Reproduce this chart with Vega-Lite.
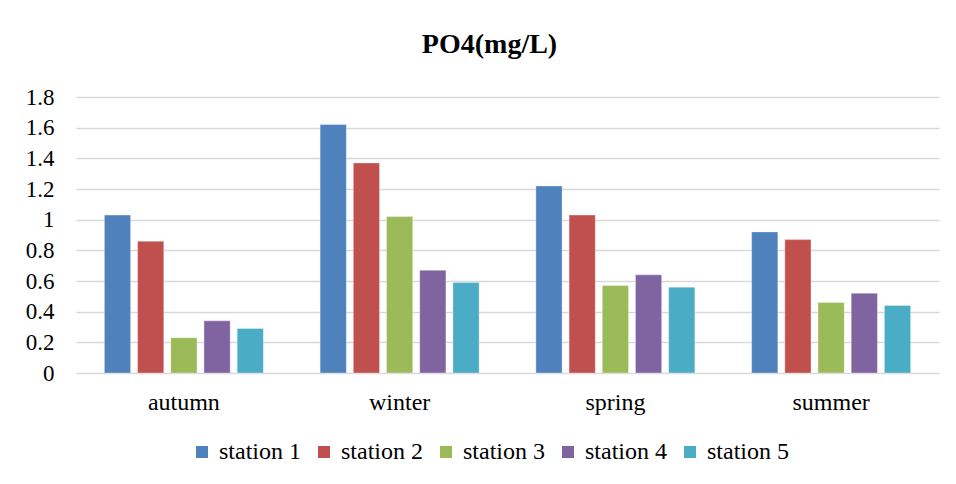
{
  "$schema": "https://vega.github.io/schema/vega-lite/v6.json",
  "width": 863,
  "height": 276,
  "autosize": {"type": "none"},
  "padding": {"left": 76, "top": 97, "right": 17, "bottom": 111},
  "background": "white",
  "title": {
    "text": "PO4(mg/L)",
    "anchor": "middle",
    "dx": -18,
    "offset": 27
  },
  "data": {
    "values": [
      {"season": "autumn", "station": "station 1", "value": 1.03},
      {"season": "autumn", "station": "station 2", "value": 0.86},
      {"season": "autumn", "station": "station 3", "value": 0.23},
      {"season": "autumn", "station": "station 4", "value": 0.34},
      {"season": "autumn", "station": "station 5", "value": 0.29},
      {"season": "winter", "station": "station 1", "value": 1.62},
      {"season": "winter", "station": "station 2", "value": 1.37},
      {"season": "winter", "station": "station 3", "value": 1.02},
      {"season": "winter", "station": "station 4", "value": 0.67},
      {"season": "winter", "station": "station 5", "value": 0.59},
      {"season": "spring", "station": "station 1", "value": 1.22},
      {"season": "spring", "station": "station 2", "value": 1.03},
      {"season": "spring", "station": "station 3", "value": 0.57},
      {"season": "spring", "station": "station 4", "value": 0.64},
      {"season": "spring", "station": "station 5", "value": 0.56},
      {"season": "summer", "station": "station 1", "value": 0.92},
      {"season": "summer", "station": "station 2", "value": 0.87},
      {"season": "summer", "station": "station 3", "value": 0.46},
      {"season": "summer", "station": "station 4", "value": 0.52},
      {"season": "summer", "station": "station 5", "value": 0.44}
    ]
  },
  "mark": {"type": "bar", "stroke": "#ffffff", "strokeOpacity": 0.35, "strokeWidth": 1},
  "encoding": {
    "x": {
      "field": "season",
      "type": "nominal",
      "sort": ["autumn", "winter", "spring", "summer"],
      "scale": {"paddingInner": 0.263, "paddingOuter": 0.1315},
      "axis": {
        "title": null,
        "labelAngle": 0,
        "ticks": false,
        "domain": false,
        "labelPadding": 17,
        "labelFontSize": 24
      }
    },
    "xOffset": {
      "field": "station",
      "type": "nominal",
      "scale": {"paddingInner": 0.21, "paddingOuter": 0}
    },
    "y": {
      "field": "value",
      "type": "quantitative",
      "scale": {"domain": [0, 1.8], "nice": false},
      "axis": {
        "title": null,
        "values": [0, 0.2, 0.4, 0.6, 0.8, 1, 1.2, 1.4, 1.6, 1.8],
        "format": "~g",
        "ticks": false,
        "domain": false,
        "grid": true,
        "labelPadding": 22,
        "labelFontSize": 23
      }
    },
    "color": {
      "field": "station",
      "type": "nominal",
      "scale": {
        "domain": ["station 1", "station 2", "station 3", "station 4", "station 5"],
        "range": ["#4F81BD", "#C0504D", "#9BBB59", "#8064A2", "#4BACC6"]
      },
      "legend": {
        "title": null,
        "orient": "none",
        "legendX": 114,
        "legendY": 343,
        "direction": "horizontal",
        "symbolType": "square",
        "symbolSize": 144,
        "symbolStrokeWidth": 0,
        "labelOffset": 5,
        "columnPadding": 11
      }
    }
  },
  "config": {
    "font": "Liberation Serif",
    "view": {"stroke": null},
    "title": {
      "font": "Liberation Serif",
      "fontSize": 28,
      "fontWeight": "bold",
      "color": "#000000"
    },
    "axis": {
      "labelFont": "Liberation Serif",
      "labelColor": "#000000",
      "gridColor": "#d9d9d9",
      "gridWidth": 1.3
    },
    "legend": {
      "labelFont": "Liberation Serif",
      "labelFontSize": 24,
      "labelColor": "#000000",
      "labelLimit": 300
    }
  }
}
